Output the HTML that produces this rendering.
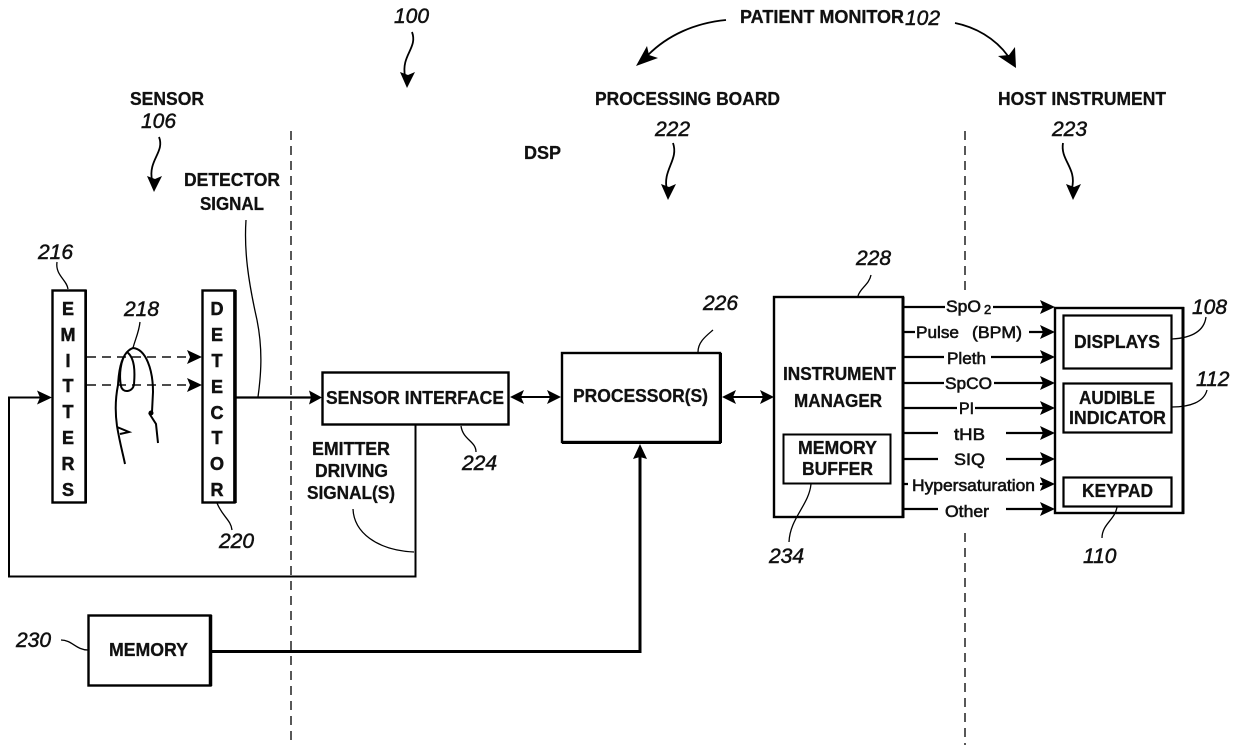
<!DOCTYPE html>
<html><head><meta charset="utf-8"><style>
html,body{margin:0;padding:0;background:#fff}
svg{display:block}
.t{font:bold 18px "Liberation Sans",sans-serif;fill:#111;stroke:#111;stroke-width:.3}
.n{font:italic 21px "Liberation Sans",sans-serif;fill:#111;stroke:#111;stroke-width:.5}
.m{text-anchor:middle}
.l{fill:none;stroke:#000;stroke-width:1.6}
.b{fill:none;stroke:#000;stroke-width:2.4}
.d{fill:none;stroke:#111;stroke-width:1.4;stroke-dasharray:9 6}
.a{fill:#000;stroke:none}
</style></head><body>
<svg width="1240" height="756" viewBox="0 0 1240 756" xmlns="http://www.w3.org/2000/svg">
<rect width="1240" height="756" fill="#fff"/>
<path class="d" d="M291 131V745M965 131V292M965 533V745"/>
<path class="d" d="M87 357H190M87 385H190"/>
<path class="a" d="M202 357l-15-7 3 7-3 7zM202 385l-15-7 3 7-3 7z"/>

<rect class="b" x="52.500" y="290.500" width="33" height="212"/>
<path d="M86 290V503" stroke="#000" stroke-width="2"/>
<rect class="b" x="202.500" y="290.500" width="32" height="212"/>
<path d="M235 290V503" stroke="#000" stroke-width="3.500"/>
<g class="t m" style="font-size:18px;stroke-width:.5">
<text x="68" y="315">E</text><text x="68" y="341">M</text><text x="68" y="367">I</text><text x="68" y="392">T</text><text x="68" y="418">T</text><text x="68" y="444">E</text><text x="68" y="470">R</text><text x="68" y="496">S</text>
<text x="217" y="315">D</text><text x="217" y="341">E</text><text x="217" y="367">T</text><text x="217" y="393">E</text><text x="217" y="419">C</text><text x="217" y="444">T</text><text x="217" y="470">O</text><text x="217" y="496">R</text>
</g>
<path class="l" style="stroke-width:2" d="M118 385C119 368 122 352 133 348C146 349 153 370 153 392L152 412M127 352C135 358 135 372 134 384C133 393 122 393 121 386C119 376 120 360 127 352M118 385C115 400 115 412 117 426C120 444 123 454 125 464M149 413L156 424L158 443M117 427L129 432L120 434"/>
<circle cx="151" cy="413" r="2.500" fill="#000"/>

<path d="M236 397.500H312" stroke="#000" stroke-width="2.200"/>
<path class="a" d="M322 397.500l-13-7 2 7-2 7z"/>
<path d="M415.500 425V576.500H9V397.500H42" fill="none" stroke="#000" stroke-width="2"/>
<path class="a" d="M52 397.500l-15-7 3 7-3 7z"/>

<rect class="b" x="322.500" y="372.500" width="186" height="52"/>
<rect class="b" x="562" y="353" width="158" height="89"/>
<path d="M720.500 353V443M562 442.500H721" stroke="#000" stroke-width="3"/>
<path d="M515 397H555M728 397H768" stroke="#000" stroke-width="2"/>
<path class="a" d="M510 397l14-7-3 7 3 7zM561 397l-14-7 3 7-3 7zM722 397l14-7-3 7 3 7zM774 397l-14-7 3 7-3 7z"/>
<path d="M212 651.500H640V455" fill="none" stroke="#000" stroke-width="3"/>
<path class="a" d="M640 444l-7 15 7-2 7 2z"/>

<rect class="b" x="774" y="297" width="129" height="220"/>
<path d="M903 297V518" stroke="#000" stroke-width="3"/>
<rect x="783.500" y="434.500" width="107" height="49" fill="none" stroke="#000" stroke-width="2"/>
<rect class="b" x="1055" y="308" width="128" height="205"/>
<path d="M1183 307V514" stroke="#000" stroke-width="3"/>
<rect x="1063.500" y="315.500" width="108" height="53" fill="none" stroke="#000" stroke-width="2.200"/>
<rect x="1063.500" y="383.500" width="108" height="49" fill="none" stroke="#000" stroke-width="2.200"/>
<rect x="1063.500" y="477.500" width="108" height="29" fill="none" stroke="#000" stroke-width="2.200"/>
<rect class="b" x="88.500" y="615.500" width="122" height="70"/>
<path d="M210.500 615V686" stroke="#000" stroke-width="3.500"/>

<g fill="none" stroke="#000" stroke-width="2.200">
<path d="M904 307H945M993 307H1045M904 332H915M1029 332H1045M904 357H944M991 357H1045M904 383H944M994 383H1045M904 408H957M975 408H1045M904 433H938M1006 433H1045M904 459H938M1006 459H1045M904 484H908M1040 484H1045M904 509H938M1006 509H1045"/>
</g>
<path class="a" d="M1055 307l-15-7 3 7-3 7zM1055 332l-15-7 3 7-3 7zM1055 357l-15-7 3 7-3 7zM1055 383l-15-7 3 7-3 7zM1055 408l-15-7 3 7-3 7zM1055 433l-15-7 3 7-3 7zM1055 459l-15-7 3 7-3 7zM1055 484l-15-7 3 7-3 7zM1055 509l-15-7 3 7-3 7z"/>

<g class="l" style="stroke-width:1.300">
<path d="M57 262C55 275 67 280 68 289"/>
<path d="M140 322C139 332 135 340 133 348"/>
<path d="M246 220C244 250 248 280 257 320C263 350 261 375 258 397"/>
<path d="M217 503C222 516 231 520 232 530"/>
<path d="M461 426C463 440 476 441 476 452"/>
<path d="M353 509C354 532 376 550 414 552"/>
<path d="M698 352C698 342 706 336 713 330"/>
<path d="M871 275C869 285 860 288 858 296"/>
<path d="M811 484C809 505 790 518 789 542"/>
<path d="M1172 339C1190 338 1204 332 1206 317"/>
<path d="M1172 407C1190 407 1204 402 1207 390"/>
<path d="M1117 507C1115 520 1102 524 1102 538"/>
<path d="M61 640C72 640 76 650 88 650"/>
</g>

<g fill="none" stroke="#000" stroke-width="1.800">
<path d="M726 20C695 23 668 35 648 55"/>
<path d="M955 23C975 27 995 38 1008 56"/>
<path d="M412 32C418 48 401 55 405 76"/>
<path d="M159 137C165 152 148 160 152 180"/>
<path d="M673 143C679 160 662 170 667 190"/>
<path d="M1063 143C1060 160 1077 168 1072 188"/>
</g>
<path class="a" d="M636 66l22-8-9-3-2-9zM1016 68l-1-21-6 8-11 1zM407 88l8-16-7 3-8-3zM154 192l8-16-7 3-8-3zM668 200l8-16-7 3-8-3zM1073 200l8-16-7 3-8-3z"/>

<g class="t">
<text x="740" y="23" textLength="164" lengthAdjust="spacingAndGlyphs">PATIENT MONITOR</text>
<text x="130" y="105" textLength="74" lengthAdjust="spacingAndGlyphs">SENSOR</text>
<text x="595" y="105" textLength="185" lengthAdjust="spacingAndGlyphs">PROCESSING BOARD</text>
<text x="998" y="105" textLength="168" lengthAdjust="spacingAndGlyphs">HOST INSTRUMENT</text>
<text x="524" y="159" textLength="37" lengthAdjust="spacingAndGlyphs">DSP</text>
<text x="184" y="186" textLength="96" lengthAdjust="spacingAndGlyphs">DETECTOR</text>
<text x="200" y="210" textLength="64" lengthAdjust="spacingAndGlyphs">SIGNAL</text>
<text x="326" y="404" textLength="178" lengthAdjust="spacingAndGlyphs">SENSOR INTERFACE</text>
<text x="573" y="402" textLength="135" lengthAdjust="spacingAndGlyphs">PROCESSOR(S)</text>
<text x="312" y="455" textLength="78" lengthAdjust="spacingAndGlyphs">EMITTER</text>
<text x="315" y="477" textLength="73" lengthAdjust="spacingAndGlyphs">DRIVING</text>
<text x="307" y="499" textLength="88" lengthAdjust="spacingAndGlyphs">SIGNAL(S)</text>
<text x="109" y="656" textLength="79" lengthAdjust="spacingAndGlyphs">MEMORY</text>
<text x="783" y="380" textLength="113" lengthAdjust="spacingAndGlyphs">INSTRUMENT</text>
<text x="794" y="407" textLength="88" lengthAdjust="spacingAndGlyphs">MANAGER</text>
<text x="798" y="454" textLength="79" lengthAdjust="spacingAndGlyphs">MEMORY</text>
<text x="802" y="475" textLength="71" lengthAdjust="spacingAndGlyphs">BUFFER</text>
<text x="1074" y="348" textLength="86" lengthAdjust="spacingAndGlyphs">DISPLAYS</text>
<text x="1079" y="404" textLength="76" lengthAdjust="spacingAndGlyphs">AUDIBLE</text>
<text x="1069" y="424" textLength="97" lengthAdjust="spacingAndGlyphs">INDICATOR</text>
<text x="1082" y="497" textLength="71" lengthAdjust="spacingAndGlyphs">KEYPAD</text>
</g>
<g class="t" style="font-size:17px;font-weight:normal;stroke-width:.6">
<text x="946" y="312" textLength="35" lengthAdjust="spacingAndGlyphs">SpO</text>
<text x="984" y="314" style="font-size:13px">2</text>
<text x="916" y="338" textLength="43" lengthAdjust="spacingAndGlyphs">Pulse</text>
<text x="972" y="338" textLength="50" lengthAdjust="spacingAndGlyphs">(BPM)</text>
<text x="947" y="364" textLength="39" lengthAdjust="spacingAndGlyphs">Pleth</text>
<text x="945" y="389" textLength="47" lengthAdjust="spacingAndGlyphs">SpCO</text>
<text x="959" y="414" textLength="15" lengthAdjust="spacingAndGlyphs">PI</text>
<text x="954" y="440" textLength="31" lengthAdjust="spacingAndGlyphs">tHB</text>
<text x="954" y="465" textLength="31" lengthAdjust="spacingAndGlyphs">SIQ</text>
<text x="912" y="491" textLength="123" lengthAdjust="spacingAndGlyphs">Hypersaturation</text>
<text x="945" y="517" textLength="44" lengthAdjust="spacingAndGlyphs">Other</text>
</g>
<g class="n">
<text x="394" y="23">100</text>
<text x="905" y="25">102</text>
<text x="141" y="128">106</text>
<text x="655" y="136">222</text>
<text x="1052" y="136">223</text>
<text x="38" y="259">216</text>
<text x="124" y="316">218</text>
<text x="856" y="265">228</text>
<text x="703" y="310">226</text>
<text x="1192" y="314">108</text>
<text x="1196" y="386">112</text>
<text x="462" y="470">224</text>
<text x="219" y="548">220</text>
<text x="769" y="563">234</text>
<text x="1083" y="563">110</text>
<text x="16" y="647">230</text>
</g>
</svg>
</body></html>
